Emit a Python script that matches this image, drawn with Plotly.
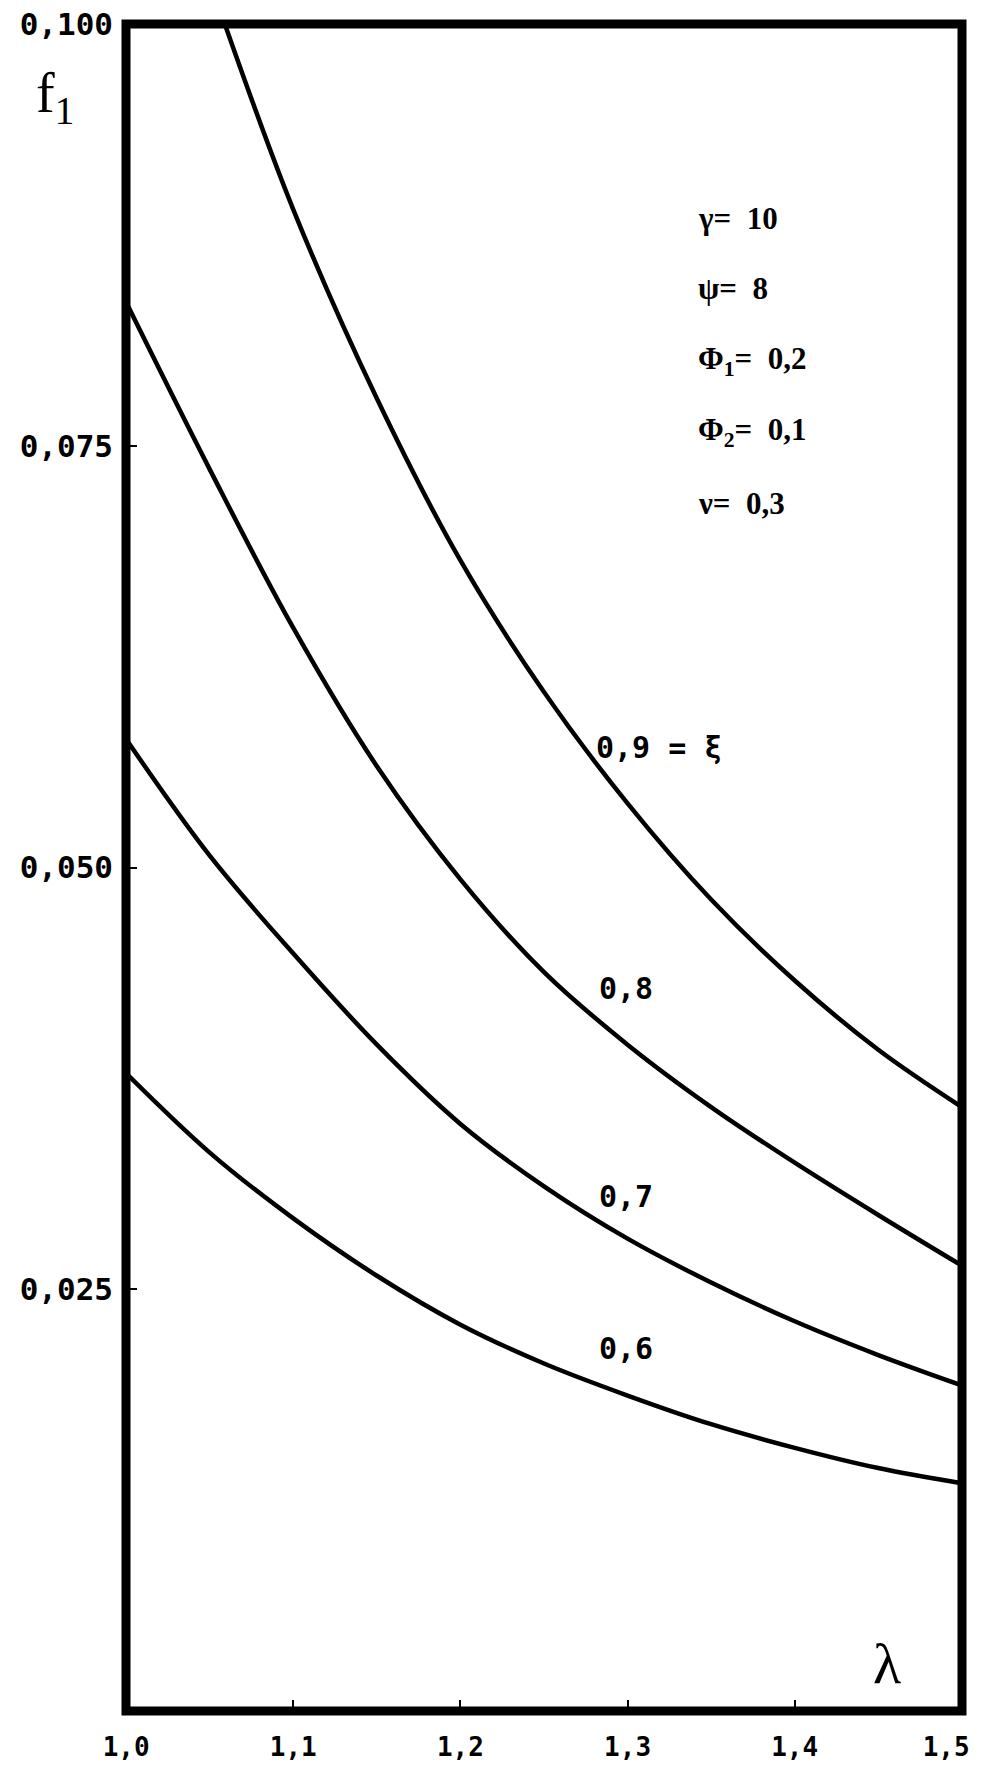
import plotly.graph_objects as go

# ---- data (lambda, f1) ----
lam_09 = [1.059, 1.10, 1.15, 1.20, 1.25, 1.30, 1.35, 1.40, 1.45, 1.50]
f1_09 = [0.1000, 0.0890, 0.0778, 0.0682, 0.0604, 0.0538, 0.0481, 0.0433, 0.0392, 0.0358]

lam_08 = [1.00, 1.05, 1.10, 1.15, 1.20, 1.25, 1.30, 1.35, 1.40, 1.45, 1.50]
f1_08 = [0.0835, 0.0736, 0.0642, 0.0560, 0.0493, 0.0438, 0.0395, 0.0358, 0.0325, 0.0294, 0.0264]

lam_07 = [1.00, 1.05, 1.10, 1.15, 1.20, 1.25, 1.30, 1.35, 1.40, 1.45, 1.50]
f1_07 = [0.0576, 0.0507, 0.0449, 0.0395, 0.0348, 0.0311, 0.0280, 0.0254, 0.0231, 0.0211, 0.0193]

lam_06 = [1.00, 1.05, 1.10, 1.15, 1.20, 1.25, 1.30, 1.35, 1.40, 1.45, 1.50]
f1_06 = [0.0378, 0.0331, 0.0292, 0.0258, 0.0229, 0.0206, 0.0187, 0.0170, 0.0156, 0.0144, 0.0135]

curve_names = ["0,9 = ξ", "0,8", "0,7", "0,6"]
label_pos = [(1.280, 0.0571), (1.282, 0.0428), (1.282, 0.0305), (1.282, 0.0215)]

x_tickvals = [1.0, 1.1, 1.2, 1.3, 1.4, 1.5]
# the last label is padded so it stays inside the page edge
x_ticktext = ["1,0", "1,1", "1,2", "1,3", "1,4", "1,5\u00a0\u00a0"]
y_tickvals = [0.025, 0.050, 0.075, 0.100]
y_ticktext = ["0,025", "0,050", "0,075", "0,100"]

params = ["γ=  10", "ψ=  8", "Φ<sub>1</sub>=  0,2", "Φ<sub>2</sub>=  0,1", "ν=  0,3"]
param_y = [0.0885, 0.0843, 0.0800, 0.0758, 0.0716]

MONO = "DejaVu Sans Mono"
SERIF = "Liberation Serif"

fig = go.Figure()
for xs, ys in [(lam_09, f1_09), (lam_08, f1_08), (lam_07, f1_07), (lam_06, f1_06)]:
    fig.add_trace(go.Scatter(x=xs, y=ys, mode="lines",
                             line=dict(color="black", width=4.5, shape="spline", smoothing=1.0),
                             showlegend=False, hoverinfo="skip"))

annotations = []
for name, (lx, ly) in zip(curve_names, label_pos):
    annotations.append(dict(x=lx, y=ly, xref="x", yref="y", text=name, showarrow=False,
                            xanchor="left", yanchor="middle",
                            font=dict(family=MONO, size=30, color="black", weight="bold")))
for t, py in zip(params, param_y):
    annotations.append(dict(x=1.341, y=py, xref="x", yref="y", text=t, showarrow=False,
                            xanchor="left", yanchor="middle",
                            font=dict(family=SERIF, size=31, color="black", weight="bold")))
annotations.append(dict(x=-0.085, y=0.957, xref="paper", yref="paper", text="f<sub>1</sub>",
                        showarrow=False, xanchor="center", yanchor="middle",
                        font=dict(family=SERIF, size=56, color="black")))
annotations.append(dict(x=1.455, y=0.0028, xref="x", yref="y", text="λ",
                        showarrow=False, xanchor="center", yanchor="middle",
                        font=dict(family=SERIF, size=58, color="black")))

# the page body adds an 8px offset, so the figure is sized to compensate
fig.update_layout(
    width=979, height=1763,
    margin=dict(l=118, r=25, t=16, b=60, autoexpand=False),
    plot_bgcolor="white", paper_bgcolor="white",
    annotations=annotations,
    shapes=[dict(type="rect", xref="paper", yref="paper", x0=0, y0=0, x1=1, y1=1,
                 line=dict(color="black", width=9), layer="above")],
)
fig.update_xaxes(range=[0.9999, 1.5001], tickvals=x_tickvals, ticktext=x_ticktext,
                 automargin=False, ticklabeloverflow="allow",
                 ticks="inside", ticklen=11, tickwidth=2, tickcolor="black",
                 showgrid=False, zeroline=False, showline=False,
                 ticklabelstandoff=18,
                 tickfont=dict(family=MONO, size=26, color="black", weight="bold"))
fig.update_yaxes(range=[0.0, 0.1], tickvals=y_tickvals, ticktext=y_ticktext,
                 automargin=False, ticklabeloverflow="allow",
                 ticks="inside", ticklen=11, tickwidth=2, tickcolor="black",
                 showgrid=False, zeroline=False, showline=False,
                 ticklabelstandoff=12,
                 tickfont=dict(family=MONO, size=31, color="black", weight="bold"))

fig.write_html("out.html")
